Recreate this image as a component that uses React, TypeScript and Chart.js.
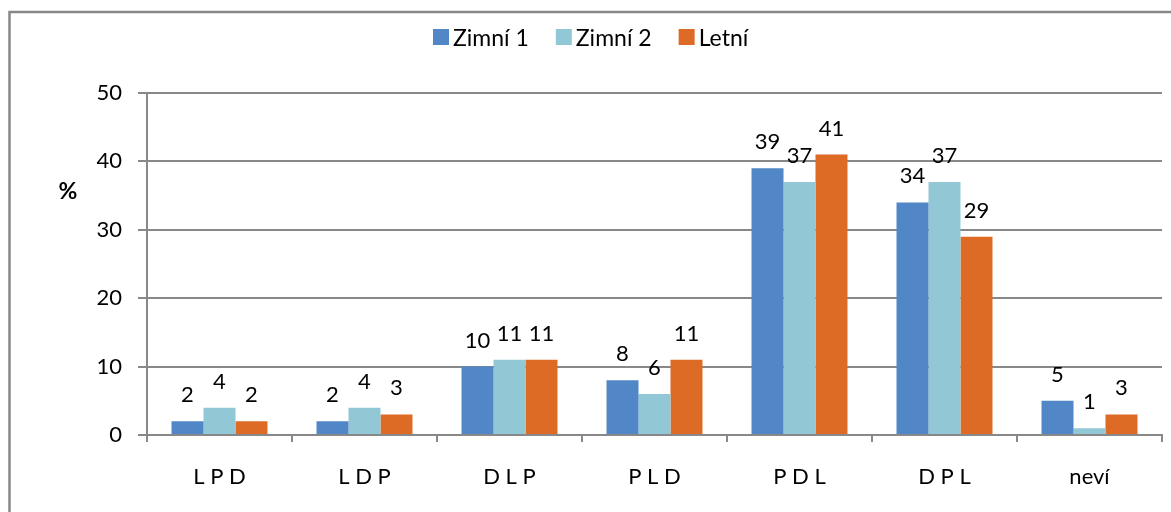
import React, { useEffect, useRef } from "react";
import { Chart, registerables } from "chart.js";

Chart.register(...registerables);

const categories = ["L P D", "L D P", "D L P", "P L D", "P D L", "D P L", "neví"];
const zimni1 = [2, 2, 10, 8, 39, 34, 5];
const zimni2 = [4, 4, 11, 6, 37, 37, 1];
const letni = [2, 3, 11, 11, 41, 29, 3];
const seriesNames = ["Zimní 1", "Zimní 2", "Letní"];
const seriesColors = ["#5187C7", "#92C8D5", "#DD6B25"];
const yMin = 0;
const yMax = 50;
const yStep = 10;
const yTitle = "%";

const FONT = "Lato, 'Open Sans', sans-serif";
const GRID = "#888888";

const framePlugin = {
  id: "frame",
  afterDraw(chart: any) {
    const ctx = chart.ctx;
    ctx.save();
    ctx.strokeStyle = GRID;
    ctx.lineWidth = 2.5;
    ctx.beginPath();
    ctx.moveTo(9.5, 520);
    ctx.lineTo(9.5, 12);
    ctx.lineTo(1180, 12);
    ctx.stroke();
    ctx.restore();
  },
};

const legendPlugin = {
  id: "customLegend",
  afterDraw(chart: any) {
    const ctx = chart.ctx;
    ctx.save();
    ctx.font = `23px ${FONT}`;
    ctx.textBaseline = "alphabetic";
    ctx.textAlign = "left";
    let x = 433;
    chart.data.datasets.forEach((ds: any) => {
      ctx.fillStyle = ds.backgroundColor;
      ctx.fillRect(x, 29, 16, 16);
      ctx.fillStyle = "#000";
      ctx.fillText(ds.label, x + 20, 46);
      x += 20 + ctx.measureText(ds.label).width + 27;
    });
    ctx.restore();
  },
};

const labelsPlugin = {
  id: "valueLabels",
  afterDatasetsDraw(chart: any) {
    const ctx = chart.ctx;
    ctx.save();
    ctx.font = `22px ${FONT}`;
    ctx.fillStyle = "#000";
    ctx.textAlign = "center";
    ctx.textBaseline = "alphabetic";
    chart.data.datasets.forEach((ds: any, i: number) => {
      const meta = chart.getDatasetMeta(i);
      meta.data.forEach((el: any, j: number) => {
        ctx.fillText(String(Math.round(ds.data[j])), el.x, el.y - 19);
      });
    });
    ctx.restore();
  },
};

const yTitlePlugin = {
  id: "yTitle",
  afterDraw(chart: any) {
    const ctx = chart.ctx;
    ctx.save();
    ctx.font = `bold 23px ${FONT}`;
    ctx.fillStyle = "#000";
    ctx.textAlign = "center";
    ctx.textBaseline = "middle";
    ctx.fillText(yTitle, 68, 192);
    ctx.restore();
  },
};

export default function App() {
  const ref = useRef<HTMLCanvasElement>(null);
  useEffect(() => {
    if (!ref.current) return;
    const chart = new Chart(ref.current, {
      type: "bar",
      data: {
        labels: categories,
        datasets: [zimni1, zimni2, letni].map((d, i) => ({
          label: seriesNames[i],
          data: d,
          backgroundColor: seriesColors[i],
          borderWidth: 0,
          categoryPercentage: 0.662,
          barPercentage: 1,
        })),
      },
      options: {
        animation: false,
        responsive: false,
        devicePixelRatio: 1,
        layout: { padding: { top: 93, right: 9, bottom: 0, left: 0 } },
        plugins: { legend: { display: false }, tooltip: { enabled: false } },
        scales: {
          x: {
            afterFit: (s: any) => {
              s.height = 77;
            },
            grid: {
              display: true,
              drawOnChartArea: false,
              drawTicks: true,
              tickLength: 7,
              color: GRID,
              lineWidth: 2,
              offset: true,
            },
            border: { display: true, color: GRID, width: 2 },
            ticks: {
              font: { family: FONT, size: 22 },
              color: "#000",
              padding: 22,
              maxRotation: 0,
              autoSkip: false,
            },
          },
          y: {
            min: yMin,
            max: yMax,
            afterFit: (s: any) => {
              s.width = 147;
            },
            grid: { color: GRID, lineWidth: 2, tickLength: 9, drawTicks: true },
            border: { display: true, color: GRID, width: 2 },
            ticks: {
              stepSize: yStep,
              font: { family: FONT, size: 22 },
              color: "#000",
              padding: 16,
            },
          },
        },
      },
      plugins: [framePlugin, legendPlugin, labelsPlugin, yTitlePlugin],
    });
    return () => chart.destroy();
  }, []);
  return (
    <div style={{ position: "absolute", left: 0, top: 0, width: 1171, height: 512, background: "#fff" }}>
      <canvas ref={ref} width={1171} height={512} />
    </div>
  );
}
